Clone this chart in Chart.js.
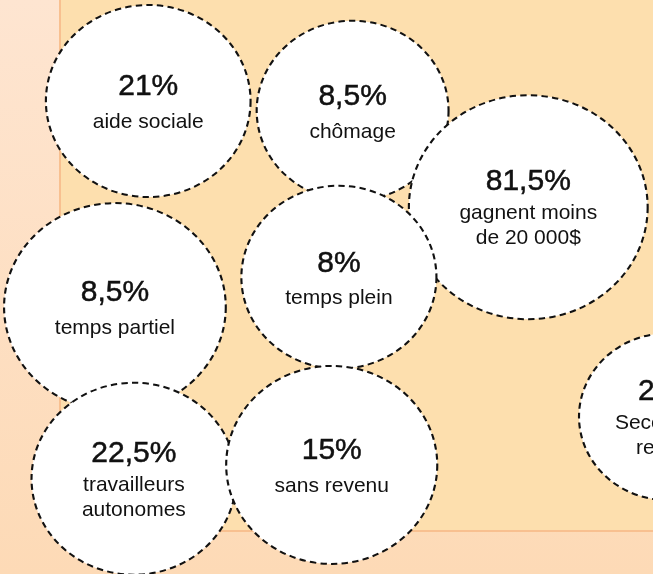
<!DOCTYPE html>
<html>
<head>
<meta charset="utf-8">
<script src="https://cdn.jsdelivr.net/npm/chart.js@4.4.0/dist/chart.umd.min.js"></script>
<style>
  html, body { margin: 0; padding: 0; background: #fee2c8; }
  #wrap { width: 653px; height: 574px; position: relative; }
</style>
</head>
<body>
<div id="wrap"><canvas id="bubbles"></canvas></div>
<script>
// values shown in each bubble
const percents = ['21%', '8,5%', '81,5%', '8,5%', '8%', '22,5%', '15%', '25%'];
const captions = [
  ['aide sociale'],
  ['chômage'],
  ['gagnent moins', 'de 20 000$'],
  ['temps partiel'],
  ['temps plein'],
  ['travailleurs', 'autonomes'],
  ['sans revenu'],
  ['Secours du', 'revenu']
];
// bubble layout (x: % of width, y: % of height, r: radius)
const posX = [22.7, 54.0, 80.9, 17.6, 51.9, 20.5, 50.8, 102.3];
const posY = [17.6, 19.3, 36.1, 53.5, 48.3, 83.4, 81.0, 72.6];
const sizes = [96, 90, 112, 104, 91.5, 96, 99, 83.5];

// bubbles are a bit wider than tall in the original
const SX = 1.066;

const points = posX.map((x, i) => ({ x: x, y: posY[i], r: sizes[i] }));

const backdrop = {
  id: 'backdrop',
  beforeDraw(chart) {
    const ctx = chart.ctx;
    const w = chart.width, h = chart.height;
    ctx.save();
    const g = ctx.createLinearGradient(0, 0, 0, h);
    g.addColorStop(0, '#fee5d1');
    g.addColorStop(1, '#fddab6');
    ctx.fillStyle = g;
    ctx.fillRect(0, 0, w, h);
    ctx.fillStyle = '#fddfae';
    ctx.fillRect(60, 0, w - 60, 531);
    ctx.strokeStyle = '#f8c090';
    ctx.lineWidth = 2;
    ctx.beginPath();
    ctx.moveTo(60, 0);
    ctx.lineTo(60, 531);
    ctx.lineTo(w, 531);
    ctx.stroke();
    ctx.restore();
  }
};

const dashed = {
  id: 'dashed',
  beforeDatasetDraw(chart) {
    const ctx = chart.ctx;
    ctx.save();
    ctx.scale(SX, 1);
    ctx.setLineDash([6, 4]);
  },
  afterDatasetDraw(chart) {
    chart.ctx.restore();
  }
};

const labels = {
  id: 'labels',
  afterDatasetsDraw(chart) {
    const ctx = chart.ctx;
    const meta = chart.getDatasetMeta(0);
    ctx.save();
    ctx.textAlign = 'center';
    ctx.textBaseline = 'middle';
    ctx.fillStyle = '#111';
    ctx.strokeStyle = '#111';
    meta.data.forEach((pt, i) => {
      const x = pt.x * SX;
      const y = pt.y;
      const lines = captions[i];
      const top = lines.length > 1 ? y - 25 : y - 14;
      ctx.font = '30px "Liberation Sans"';
      ctx.lineWidth = 0.5;
      ctx.fillText(percents[i], x, top);
      ctx.strokeText(percents[i], x, top);
      ctx.font = '21px "Liberation Sans"';
      lines.forEach((t, j) => {
        const ly = lines.length > 1 ? y + 6 + j * 25 : y + 21;
        ctx.fillText(t, x, ly);
      });
    });
    ctx.restore();
  }
};

new Chart(document.getElementById('bubbles'), {
  type: 'bubble',
  data: {
    datasets: [{
      data: points,
      backgroundColor: '#ffffff',
      borderColor: '#111111',
      borderWidth: 2,
      clip: false
    }]
  },
  options: {
    responsive: true,
    maintainAspectRatio: false,
    animation: false,
    events: [],
    layout: { padding: 0, autoPadding: false },
    plugins: { legend: { display: false }, tooltip: { enabled: false } },
    scales: {
      x: { display: false, min: 0, max: 100 * SX },
      y: { display: false, min: 0, max: 100, reverse: true }
    }
  },
  plugins: [backdrop, dashed, labels]
});
</script>
</body>
</html>
